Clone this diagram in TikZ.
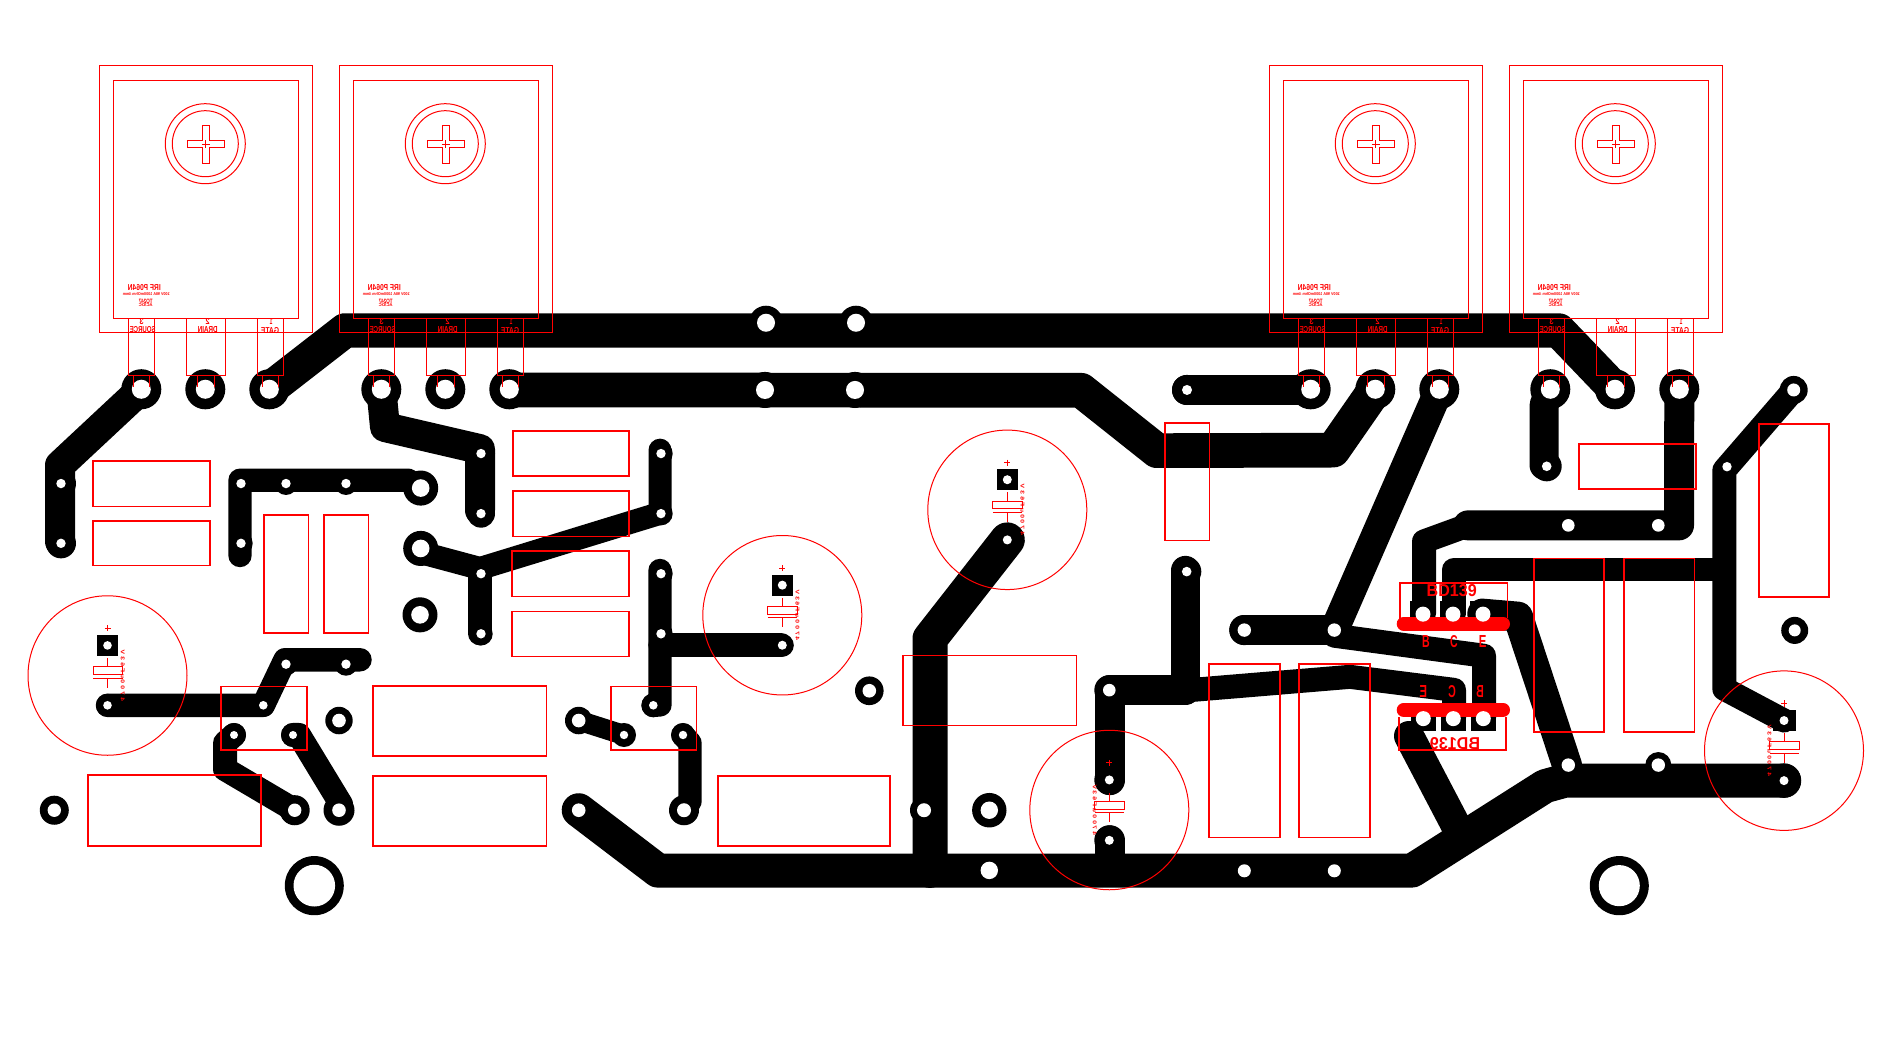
\documentclass[tikz,border=0pt]{standalone}
\usepackage{graphicx}
\usepackage{fontspec}
\setmainfont{Liberation Sans}
\definecolor{pcbred}{RGB}{255,0,0}
\tikzset{
  trk/.style={draw=black,line width=#1*0.5pt,line join=round,line cap=round},
  thinred/.style={draw=pcbred,line width=0.5pt},
  body/.style={draw=pcbred,line width=0.8pt},
  bar/.style={draw=pcbred,line width=7pt,line cap=round},
  lab/.style={inner sep=0pt,outer sep=0pt,text=pcbred,anchor=center,font=\bfseries},
  board/.style={y=-0.5015pt,yshift=0.6pt}
}
% width(pt) height(pt) text, mirrored
\newcommand{\mtxt}[3]{\resizebox{#1pt}{#2pt}{\reflectbox{#3}}}
\newcommand{\ntxt}[3]{\resizebox{#1pt}{#2pt}{#3}}
% TO-247 outline, #1 node prefix, #2 left x
\newcommand{\tocomp}[2]{%
 \begin{scope}[shift={(#2,0)}]
  \draw[thinred] (0,65.3) rectangle (212.8,332.3);
  \draw[thinred] (14,80.3) rectangle (199,318.3);
  \draw[thinred] (106,143.7) circle[radius=40];
  \draw[thinred] (106,143.7) circle[radius=33];
  \draw[thinred] (103,125.3) -- (110.4,125.3) -- (110.4,140.3) -- (125.4,140.3) -- (125.4,147.7) -- (110.4,147.7) -- (110.4,163.3) -- (103,163.3) -- (103,147.7) -- (88,147.7) -- (88,140.3) -- (103,140.3) -- cycle;
  \draw[thinred] (102.5,144.3) -- (110.5,144.3) (106.5,140.3) -- (106.5,148.3);
  \draw[thinred] (29,318.3) rectangle (55,375.3);
  \draw[thinred] (87,318.3) rectangle (126,375.3);
  \draw[thinred] (158,318.3) rectangle (184,375.3);
  \draw[thinred] (34,375.3) -- (34,387) (50,375.3) -- (50,387);
  \draw[thinred] (98,375.3) -- (98,387) (115,375.3) -- (115,387);
  \draw[thinred] (163,375.3) -- (163,387) (179,375.3) -- (179,387);
  \node[lab] (#1a) at (45,288) {\mtxt{16.5}{3}{IRF P064N}};
  \node[lab] (#1b) at (47,294) {\mtxt{23.5}{1.5}{100V 98A 1000mOhm 4mm}};
  \node[lab] (#1c) at (46.4,301) {\mtxt{7}{2.2}{TO247}};
  \node[lab] (#1d) at (46.4,305.3) {\mtxt{7}{1.5}{AC/DC}};
  \node[lab] (#1e) at (42.4,321.7) {\mtxt{2}{3}{3}};
  \node[lab] (#1f) at (43.4,329.7) {\mtxt{13}{3}{SOURCE}};
  \node[lab] (#1g) at (108.4,321.7) {\mtxt{2}{3}{2}};
  \node[lab] (#1h) at (108.4,329.7) {\mtxt{10}{3}{DRAIN}};
  \node[lab] (#1i) at (172,321.7) {\mtxt{1.4}{3}{1}};
  \node[lab] (#1j) at (170.7,331) {\mtxt{9}{3}{GATE}};
 \end{scope}}
% capacitor symbol, #1 node name, #2 x, #3 y of + hole, #4 x offset of value text
\newcommand{\capmark}[4]{%
 \begin{scope}[shift={(#2,#3)}]
  \draw[thinred] (0,30) circle[radius=79.5];
  \draw[thinred] (-3,-17) -- (3,-17) (0,-20) -- (0,-14);
  \draw[thinred] (0,12.6) -- (0,21.3);
  \draw[thinred] (-14.4,21.3) rectangle (15,29);
  \draw[thinred] (-14.4,32.6) -- (15,32.6);
  \draw[thinred] (0,32.6) -- (0,42);
  \node[lab,rotate=-90] (#1) at (#4,30) {\mtxt{25.5}{1.9}{4 7 0 0 u F 6 3 V}};
 \end{scope}}
\begin{document}
\begin{tikzpicture}[x=0.5pt,y=-0.5pt]
\useasboundingbox (0,0) rectangle (1890,1053);
\fill[white] (0,0) rectangle (1890,1053);
\begin{scope}[board]
% --- copper tracks
\draw[trk=30] (141.3,389.3) -- (60,465) -- (60,541);
\draw[trk=34.4] (269.3,389.3) -- (345,330.7) -- (1558.7,330.7) -- (1615,389.3);
\draw[trk=34.7] (509.3,390) -- (1081,390.3) -- (1157,450.5) -- (1333,450) -- (1375.3,389.3);
\draw[trk=30] (381.3,389.3) -- (385,427) -- (480,449) -- (480,510);
\draw[trk=23.4] (240,555) -- (240,480) -- (408,480) -- (420.7,487.8);
\draw[trk=23] (424,553) -- (480,568) -- (660,513) -- (660,450);
\draw[trk=23.4] (480,568) -- (480,633);
\draw[trk=23.4] (660,570) -- (660,704) -- (653.3,704.4);
\draw[trk=23.4] (660,644.2) -- (781,644.2);
\draw[trk=20] (578.7,719.6) -- (624,734);
\draw[trk=23.4] (683,734) -- (690,742) -- (690,800) -- (684,809);
\draw[trk=23.5] (107.5,704.4) -- (263.3,704.4) -- (285,659) -- (360,659);
\draw[trk=24] (234,734) -- (225,742) -- (225,768) -- (294.7,809);
\draw[trk=24] (293,734) -- (299,734) -- (341,803) -- (339,809);
\draw[trk=34] (578.7,809) -- (658,869.2) -- (1412,869.2) -- (1545,785) -- (1565,779.5) -- (1784,779.5);
\draw[trk=35] (1007.3,539.5) -- (930,638) -- (930,869);
\draw[trk=30] (1482.3,613) -- (1518,616) -- (1567,764);
\draw[trk=29] (1439.3,389.3) -- (1334.3,629.4);
\draw[trk=30] (1244.3,629.4) -- (1334.3,629.4);
\draw[trk=24] (1334.3,635) -- (1484,655) -- (1484,717);
\draw[trk=30] (1185.3,689.3) -- (1110,689.3) -- (1110,779);
\draw[trk=29.3] (1185.3,570) -- (1185.3,689);
\draw[trk=24] (1193,689) -- (1350,676) -- (1454,689) -- (1454,717);
\draw[trk=30] (1409,735) -- (1460,832);
\draw[trk=30] (1110,839) -- (1110,869);
\draw[trk=24] (1424,613) -- (1424,541) -- (1468,525);
\draw[trk=30] (1468,525) -- (1679,525) -- (1679.3,389.3);
\draw[trk=23.4] (1454,613) -- (1454,569) -- (1724,569);
\draw[trk=24] (1793.7,390) -- (1724.3,470) -- (1724.3,688) -- (1784,719.6);
\draw[trk=29] (1550.3,389.3) -- (1544,405) -- (1544,465);
\draw[trk=30] (1187,390) -- (1310.7,390);
% --- pads
\def\padlist{141.3/389.3/20/9.5,205.3/389.3/20/9.5,269.3/389.3/20/9.5,381.3/389.3/20/9.5,445.3/389.3/20/9.5,509.3/389.3/20/9.5,
1310.7/389.3/20/9.5,1375.3/389.3/20/9.5,1439.3/389.3/20/9.5,1550.3/389.3/20/9.5,1615/389.3/20/9.5,1679.3/389.3/20/9.5,
766/323/17/9,856/323/17/9,765/390/18/9,855/390/18/9,
61/483.3/15/4.7,61/542.9/15/4.7,241/483.3/11.7/4.7,241/542.9/11.7/4.7,286/483.3/11.4/4.7,346/483.3/11.4/4.7,420.7/487.8/17.5/8.8,
420.7/548/17.5/8.8,420/614.2/17.5/8.8,481/573.2/11.7/4.7,481/633.1/11.7/4.7,481/453.4/14/4.7,481/513.3/14/4.7,
107.5/704.4/11.5/4.3,263.3/704.4/11.5/4.3,286/663.4/11.5/4.7,346/663.4/11.5/4.7,
234/734/12/4,293/734/12/4,339/719.6/13.7/6.8,294.7/809/15/6.7,339/809/15.5/6.8,54.3/809/14.5/6.7,314.3/884.2/29.5/20.8,
661/453.4/11.7/4.7,661/513.3/11.7/4.7,661/573.2/11.7/4.7,661/633.1/11.7/4.7,653.3/704.4/12/4.3,578.7/719.6/13.7/6.8,624/734/12/4.2,683/734/12/4.2,684/809/15/7,578.7/809/14/6.8,782.3/644.5/11.5/4.5,869.3/689.9/14.3/6.8,924/809/14/7,989.3/809/17.2/8.7,989.3/869/0/8.7,1007.3/539.5/16/4.5,
1244.3/629.4/15/6.7,1334.3/629.4/15/6.7,1186.7/571.1/14.6/4.8,1109.3/689.3/15/6.3,1109.3/778.8/15/4.5,1109.3/839/15/4.5,1244.3/869.4/0/6.5,1334.3/869.4/0/6.5,
1187/390/15/5,1546.7/466.1/15/4.8,1568.3/525/0/6.3,1658.3/525/0/6.3,1568.3/764/13/6.7,1658.3/764/13/6.7,1784/779.5/17.2/4.5,1784/719.6/0/4.5,1794.7/629.7/13.5/6,1793.7/390/14/6.5,1727/466.5/0/4.7,
1619.3/884.2/29.5/20.5,107.5/644.7/0/4.3,782.3/584.6/0/4.5,1007.3/479.5/0/4.5,
1423/613.5/0/7.5,1453/613.5/0/7.5,1483/613.5/0/7.5,1423.3/717.7/0/7.5,1453.3/717.7/0/7.5,1483.3/717.7/0/7.5}
\foreach \px/\py/\pr/\ph in \padlist {\fill[black] (\px,\py) circle[radius=\pr];}
% square pads
\fill[black] (97,634) rectangle (118,655);
\fill[black] (772,574) rectangle (793,595);
\fill[black] (997,469) rectangle (1018,490);
\fill[black] (1773.3,709) rectangle (1795.7,730);
\foreach \sx in {1410,1440,1470} {\fill[black] (\sx,600.8) rectangle +(25,25);}
\foreach \sx in {1411,1441,1470.5} {\fill[black] (\sx,705) rectangle +(25,25);}
% BD139 red bars
\draw[bar] (1403.7,623) -- (1503,623);
\draw[bar] (1403.7,709) -- (1503,709);
% holes
\foreach \px/\py/\pr/\ph in \padlist {\fill[white] (\px,\py) circle[radius=\ph];}
\end{scope}
% --- red overlay: TO-247 packages
\tocomp{qa}{99.3}
\tocomp{qb}{339.3}
\tocomp{qc}{1269.3}
\tocomp{qd}{1509.3}
\begin{scope}[board]
% resistors and other bodies
\foreach \ax/\ay/\bx/\by in {92.7/461/210/506,92.7/520.9/210/565,264/514.7/308.3/632.1,324/514.7/368.3/632.1,
221/685.8/306.7/748.8,88/774/261/844.9,372.7/685.1/546.3/754.7,372.7/775/546.3/844.9,
512.7/431/629/476,512.7/490.9/629/536,511.7/550.8/629/595.9,511.7/610.7/629/655.9,
611/685.8/696.3/748.8,718/775/890/844.9,902.7/654.8/1076.3/724.7,1164.7/422.7/1209.3/540.2,
1209/663.1/1280/836,1298.7/663.1/1370/836,1533.7/558/1604/730.9,1623.7/558/1694.3/730.9,
1578.7/444.1/1696/488.8,1758.7/424.1/1829/596.3}
 {\draw[body] (\ax,\ay) rectangle (\bx,\by);}
% capacitors
\capmark{ca}{107.5}{644.7}{15.3}
\capmark{cb}{782.3}{584.6}{15.3}
\capmark{cc}{1007.3}{479.5}{15.3}
\capmark{cd}{1109.3}{778.8}{-14.5}
\capmark{ce}{1784}{719.6}{-14.5}
% BD139 frames and labels
\draw[body] (1400,620) -- (1400,582.3) -- (1507.3,582.3) -- (1507.3,617);
\draw[body] (1399,716) -- (1399,749) -- (1506,749) -- (1506,716);
\node[lab] (bdt) at (1451.7,590) {\ntxt{25}{6}{BD139}};
\node[lab] (bdb) at (1455,742.3) {\mtxt{25}{6}{BD139}};
\node[lab] (tb) at (1426,640.7) {\ntxt{3.8}{6}{B}};
\node[lab] (tc) at (1454,640.7) {\ntxt{3.8}{6}{C}};
\node[lab] (te) at (1482.7,640.7) {\ntxt{3.8}{6}{E}};
\node[lab] (be) at (1423.3,690.7) {\mtxt{3.8}{6}{E}};
\node[lab] (bc) at (1452,690.7) {\mtxt{3.8}{6}{C}};
\node[lab] (bb) at (1480,691) {\mtxt{3.8}{6}{B}};
\end{scope}
\end{tikzpicture}
\end{document}
